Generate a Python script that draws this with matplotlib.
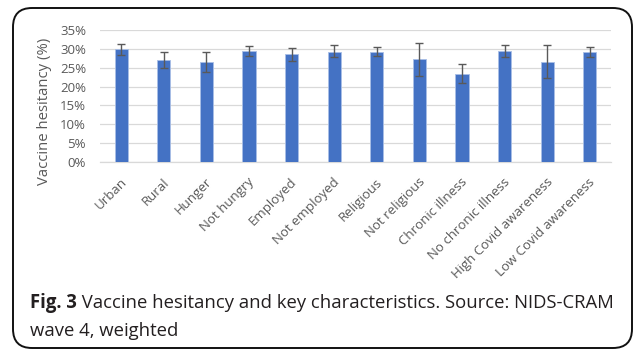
import matplotlib
matplotlib.use("Agg")
import matplotlib.pyplot as plt
from matplotlib.patches import FancyBboxPatch
from matplotlib.ticker import PercentFormatter
import matplotlib.transforms as mtransforms
import numpy as np

categories = ["Urban", "Rural", "Hunger", "Not hungry", "Employed", "Not employed",
              "Religious", "Not religious", "Chronic illness", "No chronic illness",
              "High Covid awareness", "Low Covid awareness"]
hesitancy = [30.0, 27.0, 26.5, 29.4, 28.6, 29.3, 29.3, 27.3, 23.4, 29.5, 26.6, 29.2]
ci_low = [28.4, 24.9, 23.9, 28.1, 26.8, 27.8, 28.1, 22.9, 20.9, 28.0, 22.2, 28.0]
ci_high = [31.4, 29.1, 29.1, 30.8, 30.4, 31.2, 30.6, 31.7, 25.9, 31.1, 31.1, 30.6]
y_ticks = [0, 5, 10, 15, 20, 25, 30, 35]
caption_bold = "Fig. 3"
caption_line1 = " Vaccine hesitancy and key characteristics. Source: NIDS-CRAM"
caption_line2 = "wave 4, weighted"

W, H = 634, 350
fig = plt.figure(figsize=(W / 100, H / 100), dpi=100)
fig.patch.set_facecolor("white")

# rounded outer frame
frame = FancyBboxPatch((13 / W, 2 / H), (W - 13 - 2) / W, (H - 8 - 2) / H,
                       boxstyle="round,pad=0,rounding_size=0.03",
                       transform=fig.transFigure, fill=False,
                       edgecolor="#111111", linewidth=1.4, mutation_aspect=W / H)
fig.patches.append(frame)

ax = fig.add_axes([100 / W, 1 - 161.7 / H, 511 / W, 131.4 / H])
x = np.arange(len(categories))
vals = np.array(hesitancy)
yerr = np.vstack([vals - np.array(ci_low), np.array(ci_high) - vals])
ax.bar(x, vals, width=0.31, color="#4472C4", edgecolor="#A9BFE6", linewidth=0.6, zorder=3)
ax.errorbar(x, vals, yerr=yerr, fmt="none", ecolor="#595959", elinewidth=1.0,
            capsize=3.2, capthick=1.0, zorder=4)

ax.set_xlim(-0.5, len(categories) - 0.5)
ax.set_ylim(0, 35)
ax.set_yticks(y_ticks)
ax.yaxis.set_major_formatter(PercentFormatter(decimals=0))
ax.grid(axis="y", color="#D9D9D9", linewidth=0.9, zorder=0)
for s in ["top", "right", "left"]:
    ax.spines[s].set_visible(False)
ax.spines["bottom"].set_color("#D9D9D9")
ax.spines["bottom"].set_linewidth(0.9)
ax.tick_params(axis="both", length=0, colors="#595959", labelsize=9.5)
ax.tick_params(axis="y", pad=10)
ax.tick_params(axis="x", pad=10)
ax.set_xticks(x)
ax.set_xticklabels(categories, rotation=45, ha="right", va="top")
shift = mtransforms.ScaledTranslation(8 / 100, 0, fig.dpi_scale_trans)
for lbl in ax.get_xticklabels():
    lbl.set_fontfamily("Open Sans")
    lbl.set_transform(lbl.get_transform() + shift)
for lbl in ax.get_yticklabels():
    lbl.set_fontfamily("Open Sans")

fig.text(45 / W, 1 - 111 / H, "Vaccine hesitancy (%)", fontsize=10.7, color="#595959",
         family="Open Sans", rotation=90, ha="center", va="center")

# caption: bold figure number followed by regular text, scaled to span the line
renderer = fig.canvas.get_renderer()
cap_x, cap_y1, cap_y2 = 30, 303, 331
target_right = 613
fs = 11.0
for _ in range(3):
    tb = fig.text(cap_x / W, 1 - cap_y1 / H, caption_bold, fontsize=fs, va="center", ha="left",
                  color="#231F20", family="Open Sans", fontweight="bold")
    bb = tb.get_window_extent(renderer)
    tr = fig.text(bb.x1 / W, 1 - cap_y1 / H, caption_line1, fontsize=fs, va="center", ha="left",
                  color="#231F20", family="Open Sans")
    br = tr.get_window_extent(renderer)
    width = br.x1 - cap_x
    tb.remove()
    tr.remove()
    fs *= (target_right - cap_x) / width

tb = fig.text(cap_x / W, 1 - cap_y1 / H, caption_bold, fontsize=fs, va="center", ha="left",
              color="#231F20", family="Open Sans", fontweight="bold")
bb = tb.get_window_extent(renderer)
fig.text(bb.x1 / W, 1 - cap_y1 / H, caption_line1, fontsize=fs, va="center", ha="left",
         color="#231F20", family="Open Sans")
fig.text(cap_x / W, 1 - cap_y2 / H, caption_line2, fontsize=fs, va="center", ha="left",
         color="#231F20", family="Open Sans")

fig.savefig("out.png", dpi=100)
